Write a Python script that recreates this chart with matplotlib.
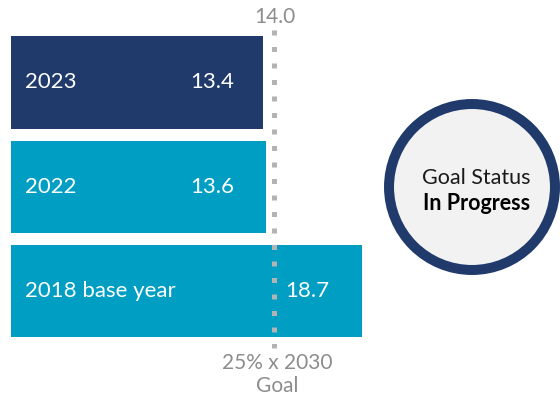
import matplotlib
matplotlib.use("Agg")
import matplotlib.pyplot as plt
from matplotlib.patches import Circle

plt.rcParams['font.family'] = ['Lato', 'DejaVu Sans']

labels = ["2023", "2022", "2018 base year"]
values = [13.4, 13.6, 18.7]
bar_colors = ["#1f3a6b", "#009ec3", "#009ec3"]
goal = 14.0
goal_text = "25% x 2030\nGoal"
status_title = "Goal Status"
status_value = "In Progress"

navy = "#1f3a6b"
gray = "#8d8d8d"

fig = plt.figure(figsize=(5.6, 3.98), dpi=100)
ax = fig.add_axes([0, 0, 1, 1])

pos = range(len(values))
ax.barh(pos, values, height=0.885, color=bar_colors, left=0)

for i, (lab, v) in enumerate(zip(labels, values)):
    ax.text(0.75, i, lab, color="white", fontsize=16, va="center", ha="left")
    if v < goal:
        ax.text(goal - 2.1, i, f"{v:.1f}", color="white", fontsize=16, va="center", ha="right")
    else:
        ax.text(goal + 0.6, i, f"{v:.1f}", color="white", fontsize=16, va="center", ha="left")

# goal line
ax.plot([goal, goal], [-0.5, 2.55], color="#b3b3b3", lw=3.6,
        linestyle=(0, (1, 2.3)), dash_capstyle="butt")
ax.text(goal + 0.05, -0.63, f"{goal:.1f}", color=gray, fontsize=15, ha="center", va="center")
ax.text(goal + 0.2, 2.8, goal_text, color=gray, fontsize=15, ha="center", va="center",
        linespacing=1.2)

ax.set_xlim(-11 / 18.77, (560 - 11) / 18.77)
ax.set_ylim(3.025, -0.79)
ax.axis("off")

# status circle
cx, cy, size = 472, 187, 180
ax2 = fig.add_axes([(cx - size / 2) / 560, (398 - cy - size / 2) / 398, size / 560, size / 398])
ax2.set_xlim(-1, 1)
ax2.set_ylim(-1, 1)
ax2.set_aspect("equal")
ax2.axis("off")
ax2.add_patch(Circle((0, 0), 0.922, facecolor="#f2f2f2", edgecolor=navy, lw=7.2))
ax2.text(0.05, 0.1, status_title, fontsize=15.5, color="#1a1a1a", ha="center", va="center")
ax2.text(0.05, -0.18, status_value, fontsize=15.5, fontweight="bold", color="black",
         ha="center", va="center")

fig.savefig("out.png", dpi=100)
